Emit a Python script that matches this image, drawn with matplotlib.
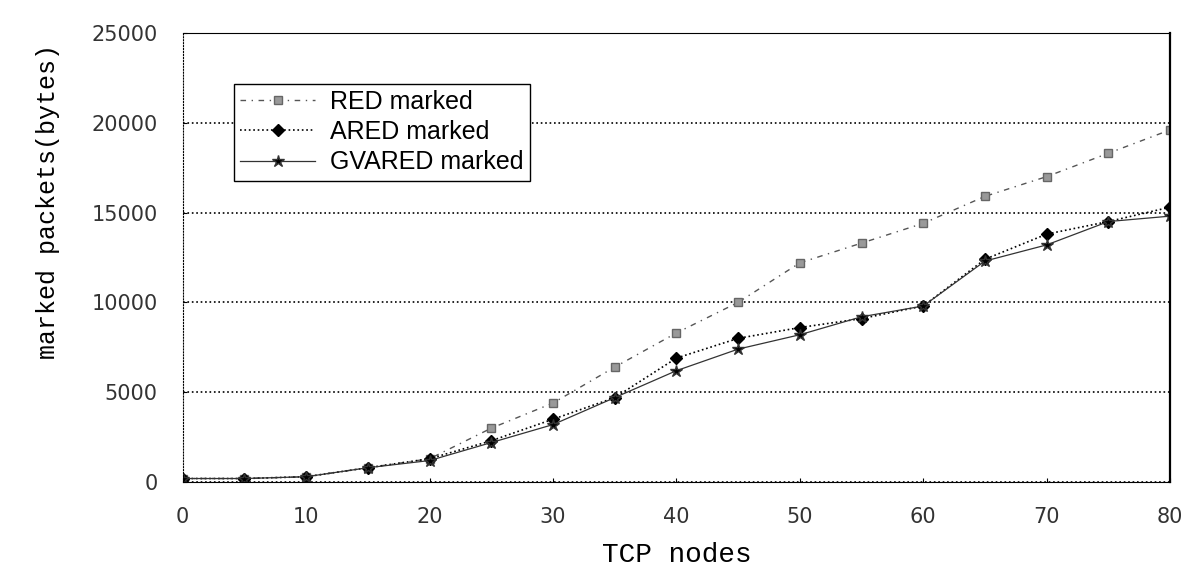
import matplotlib.pyplot as plt

# data
tcp_nodes = [0, 5, 10, 15, 20, 25, 30, 35, 40, 45, 50, 55, 60, 65, 70, 75, 80]
red_marked = [200, 200, 300, 800, 1300, 3000, 4400, 6400, 8300, 10000,
              12200, 13300, 14400, 15900, 17000, 18300, 19600]
ared_marked = [200, 200, 300, 800, 1300, 2300, 3500, 4700, 6900, 8000,
               8600, 9100, 9800, 12400, 13800, 14500, 15300]
gvared_marked = [200, 200, 300, 800, 1200, 2200, 3200, 4700, 6200, 7400,
                 8200, 9200, 9800, 12300, 13200, 14500, 14800]
y_ticks = [0, 5000, 10000, 15000, 20000, 25000]
x_ticks = [0, 10, 20, 30, 40, 50, 60, 70, 80]

fig = plt.figure(figsize=(11.94, 5.76), dpi=100)
ax = fig.add_axes([0.153, 0.163, 0.827, 0.78])

ax.plot(tcp_nodes, red_marked, linestyle=(0, (4, 4, 1, 4)), color='#555555', lw=1,
        marker='s', markersize=6, markerfacecolor='#999999', markeredgecolor='#666666',
        label='RED marked')
ax.plot(tcp_nodes, ared_marked, linestyle=':', color='black', lw=1.2,
        marker='D', markersize=6, markerfacecolor='black', label='ARED marked')
ax.plot(tcp_nodes, gvared_marked, linestyle='-', color='#333333', lw=0.9,
        marker='*', markersize=9, markerfacecolor='black', label='GVARED marked')

ax.set_xlim(0, 80)
ax.set_ylim(0, 25000)
ax.set_xticks(x_ticks)
ax.set_yticks(y_ticks)
ax.tick_params(direction='in', length=3, labelsize=15, pad=18)
for lbl in ax.get_xticklabels() + ax.get_yticklabels():
    lbl.set_color('#333333')
ax.yaxis.grid(True, linestyle=':', color='black', lw=1.2)
ax.xaxis.grid(False)
for side in ax.spines:
    ax.spines[side].set_linewidth(0.8)
ax.spines['right'].set_linewidth(1.6)
ax.spines['left'].set_linestyle(':')

ax.set_xlabel('TCP nodes', family='Liberation Mono', fontsize=20, labelpad=11)
fig.text(0.04, 0.65, 'marked packets(bytes)', family='Liberation Mono', fontsize=18,
         rotation=90, ha='center', va='center')

leg = ax.legend(loc='upper left', bbox_to_anchor=(0.0395, 0.915),
                prop={'family': 'Liberation Sans', 'size': 18},
                fancybox=False, framealpha=1, edgecolor='black', borderpad=0.25,
                handlelength=3.0, labelspacing=0.25, handletextpad=0.6)
leg.get_frame().set_linewidth(1)

fig.savefig('out.png', dpi=100)
